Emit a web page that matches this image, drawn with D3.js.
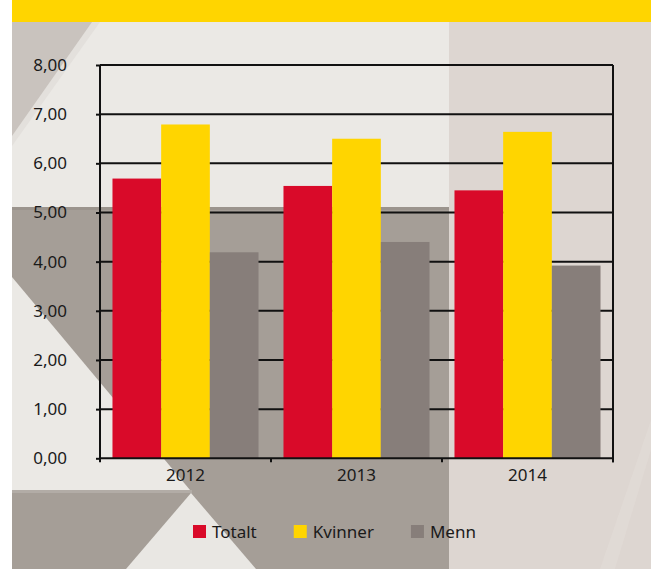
<!DOCTYPE html>
<html>
<head>
<meta charset="utf-8">
<script src="https://cdn.jsdelivr.net/npm/d3@7"></script>
<style>
  html, body { margin: 0; padding: 0; background: #ffffff; }
  svg { display: block; }
  text { font-family: "Noto Sans", "DejaVu Sans", sans-serif; fill: #1a1a1a; }
</style>
</head>
<body>
<svg id="chart" width="651" height="569"></svg>
<script>
// Chart data
const years = ["2012", "2013", "2014"];
const seriesNames = ["Totalt", "Kvinner", "Menn"];
const totalt  = [5.69, 5.54, 5.45];
const kvinner = [6.79, 6.50, 6.64];
const menn    = [4.19, 4.40, 3.92];
const yTicks  = [0, 1, 2, 3, 4, 5, 6, 7, 8];
const seriesColors = ["#d90a29", "#ffd500", "#877e7a"];

const svg = d3.select("#chart");
const W = 651, H = 569;
const FS = 17;

// Decorative backdrop: panels and angled facets behind the chart
const bg = svg.append("g");
const left = 12;
bg.append("rect").attr("x", left).attr("y", 0).attr("width", W - left).attr("height", H).attr("fill", "#ebe9e5");
// right-hand pale panel
bg.append("rect").attr("x", 449).attr("y", 22).attr("width", W - 449).attr("height", H - 22).attr("fill", "#ddd6d1");
bg.append("polygon").attr("points", "600,569 651,420 651,450 615,569").attr("fill", "#e2dcd7").attr("opacity", 0.6);
// top-left darker facet with a pale edge
bg.append("polygon").attr("points", `${left},22 100,22 ${left},146`).attr("fill", "#e3e0dc");
bg.append("polygon").attr("points", `${left},22 92,22 ${left},136`).attr("fill", "#c9c3be");
// middle grey band
bg.append("rect").attr("x", left).attr("y", 207).attr("width", 449 - left).attr("height", H - 207).attr("fill", "#a59e97");
bg.append("rect").attr("x", left).attr("y", 207).attr("width", 449 - left).attr("height", 3).attr("fill", "#9b948d");
// light triangle lower left
bg.append("polygon").attr("points", `${left},277 190,490 ${left},490`).attr("fill", "#ebe9e5");
// light triangle at bottom
bg.append("polygon").attr("points", "191,493 126,569 256,569").attr("fill", "#e9e7e3");
bg.append("rect").attr("x", left).attr("y", 490).attr("width", 180).attr("height", 3).attr("fill", "#b2aca6");

// Yellow heading band
svg.append("rect").attr("x", left).attr("y", 0).attr("width", W - left).attr("height", 22).attr("fill", "#ffd500");

// Plot geometry
const margin = { left: 100, right: 38, top: 65, bottom: 111 };
const x0 = margin.left, x1 = W - margin.right;
const yTop = margin.top, yBot = H - margin.bottom + 0.3;

const y = d3.scaleLinear().domain([0, 8]).range([yBot, yTop]);
const x = d3.scaleBand().domain(years).range([x0, x1]).paddingInner(0.146).paddingOuter(0.073);
const xs = d3.scaleBand().domain(seriesNames).range([0, x.bandwidth()]).padding(0);

const values = [totalt, kvinner, menn];
const rows = years.map((yr, i) => ({ year: yr, vals: seriesNames.map((s, j) => ({ s, v: values[j][i], c: seriesColors[j] })) }));

const plot = svg.append("g");

// Horizontal gridlines (drawn under the bars)
plot.append("g")
  .selectAll("line")
  .data(yTicks.slice(1))
  .join("line")
  .attr("x1", x0).attr("x2", x1)
  .attr("y1", d => y(d)).attr("y2", d => y(d))
  .attr("stroke", "#111").attr("stroke-width", 2);

// Bars
plot.append("g")
  .selectAll("g")
  .data(rows)
  .join("g")
  .attr("transform", d => `translate(${x(d.year)},0)`)
  .selectAll("rect")
  .data(d => d.vals)
  .join("rect")
  .attr("x", d => xs(d.s))
  .attr("width", xs.bandwidth())
  .attr("y", d => y(d.v))
  .attr("height", d => y(0) - y(d.v))
  .attr("fill", d => d.c);

// Right border of the plot
plot.append("line").attr("x1", x1).attr("x2", x1).attr("y1", yTop).attr("y2", yBot + 4)
  .attr("stroke", "#111").attr("stroke-width", 2);

// Y axis
const yAxis = d3.axisLeft(y).tickValues(yTicks).tickSize(4).tickPadding(29)
  .tickFormat(d => d3.format(".2f")(d).replace(".", ","));
const gy = svg.append("g").attr("transform", `translate(${x0},0)`).call(yAxis);
gy.select(".domain").attr("stroke", "#111").attr("stroke-width", 2).attr("d", `M0,${yTop}V${yBot + 3}`);
gy.selectAll(".tick line").attr("stroke", "#111").attr("stroke-width", 2);
gy.selectAll(".tick text").attr("font-size", FS).attr("fill", "#1a1a1a")
  .style("font-family", '"Noto Sans", sans-serif');

// X axis: category labels plus boundary ticks
const gx = svg.append("g").attr("transform", `translate(0,${yBot})`);
gx.append("line").attr("x1", x0).attr("x2", x1).attr("y1", 0).attr("y2", 0)
  .attr("stroke", "#111").attr("stroke-width", 2);
const step = x.step();
const bounds = d3.range(years.length + 1).map(i => x0 + i * step);
gx.selectAll("line.b").data(bounds).join("line").attr("class", "b")
  .attr("x1", d => d).attr("x2", d => d).attr("y1", 0).attr("y2", 4)
  .attr("stroke", "#111").attr("stroke-width", 2);
gx.selectAll("text").data(years).join("text")
  .attr("x", d => x(d) + x.bandwidth() / 2)
  .attr("y", 23)
  .attr("text-anchor", "middle")
  .attr("font-size", FS)
  .text(d => d);

// Legend
const legend = svg.append("g").attr("transform", "translate(193,525)");
let lx = 0;
seriesNames.forEach((s, i) => {
  const g = legend.append("g").attr("transform", `translate(${lx},0)`);
  g.append("rect").attr("width", 13).attr("height", 13).attr("fill", seriesColors[i]);
  const t = g.append("text").attr("x", 19).attr("y", 12.5).attr("font-size", FS).text(s);
  lx += 19 + t.node().getComputedTextLength() + 37;
});
</script>
</body>
</html>
